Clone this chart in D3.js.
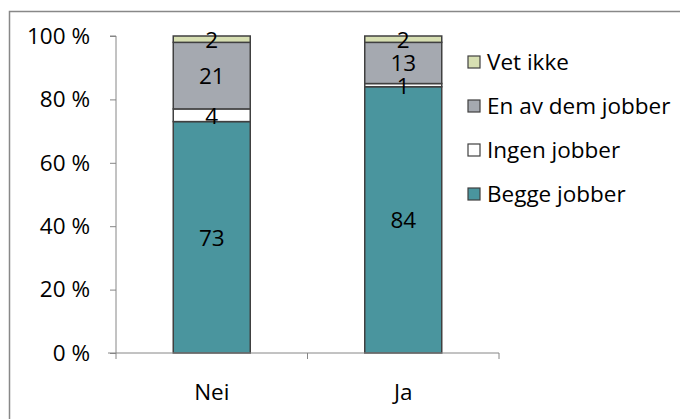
<!DOCTYPE html>
<html><head><meta charset="utf-8">
<script src="https://cdn.jsdelivr.net/npm/d3@7"></script>
<style>body{margin:0;background:#fff}svg{display:block;font-family:"Open Sans",sans-serif}</style>
</head><body><svg id="c" width="680" height="419"></svg>
<script>
const categories = ["Nei", "Ja"];
const seriesNames = ["Begge jobber", "Ingen jobber", "En av dem jobber", "Vet ikke"];
const begge = [73, 84];
const ingen = [4, 1];
const enAv = [21, 13];
const vetIkke = [2, 2];
const yTicks = [0, 20, 40, 60, 80, 100];
const colors = ["#4A959E", "#FFFFFF", "#A5A9B0", "#D7DFB2"];
const FONT = "'Open Sans',sans-serif";
const FS = 22.5;

const svg = d3.select("#c");
svg.append("rect").attr("x",9.5).attr("y",11.5).attr("width",700).attr("height",450)
  .attr("fill","none").attr("stroke","#888").attr("stroke-width",1.5);

const x0 = 116, x1 = 499, yTop = 36, yBot = 353;
const x = d3.scaleBand().domain(categories).range([x0, x1]).paddingInner(0).paddingOuter(0);
const y = d3.scaleLinear().domain([0,100]).range([yBot, yTop]);
const barW = 77;

const table = categories.map((c,i)=>({cat:c, "Begge jobber":begge[i], "Ingen jobber":ingen[i], "En av dem jobber":enAv[i], "Vet ikke":vetIkke[i]}));
const stack = d3.stack().keys(seriesNames)(table);

const g = svg.append("g");
stack.forEach((layer, li) => {
  layer.forEach(d => {
    const cx = x(d.data.cat) + x.bandwidth()/2;
    g.append("rect").attr("x", cx - barW/2).attr("y", y(d[1]))
      .attr("width", barW).attr("height", y(d[0]) - y(d[1]))
      .attr("fill", colors[li]).attr("stroke", "#404040").attr("stroke-width", 1.5);
  });
});
stack.forEach((layer, li) => {
  layer.forEach(d => {
    const cx = x(d.data.cat) + x.bandwidth()/2;
    g.append("text").attr("x", cx).attr("y", y((d[0]+d[1])/2)).attr("dy","0.38em")
      .attr("text-anchor","middle").attr("font-size",FS).attr("fill","#000")
      .text(d[1]-d[0]);
  });
});

// y axis
const yAxis = d3.axisLeft(y).tickValues(yTicks).tickSize(6).tickPadding(20).tickFormat(d => d + " %");
const ya = svg.append("g").attr("transform", `translate(${x0},0)`).call(yAxis);
ya.select(".domain").attr("stroke","#868686").attr("d", `M-6,${yTop}H0V${yBot}`);
ya.selectAll(".tick line").attr("stroke","#868686");
ya.selectAll(".tick text").attr("font-size",FS).attr("fill","#000").attr("font-family",FONT);

// x axis
const xAxis = d3.axisBottom(x).tickSize(0).tickPadding(31);
const xa = svg.append("g").attr("transform", `translate(0,${yBot})`).call(xAxis);
xa.select(".domain").attr("stroke","#868686").attr("d", `M${x0-8},0H${x1}`);
xa.selectAll(".tick text").attr("font-size",FS).attr("fill","#000").attr("font-family",FONT);
const bounds = [x0].concat(categories.map(c => x(c) + x.bandwidth()));
xa.selectAll(".bt").data(bounds).enter().append("line")
  .attr("x1",d=>d).attr("x2",d=>d).attr("y1",0).attr("y2",6).attr("stroke","#868686");

// legend
const legendOrder = ["Vet ikke", "En av dem jobber", "Ingen jobber", "Begge jobber"];
const lg = svg.append("g");
legendOrder.forEach((name, i) => {
  const ci = seriesNames.indexOf(name);
  const ly = 62 + i*44;
  lg.append("rect").attr("x",468).attr("y",ly-6).attr("width",12).attr("height",12)
    .attr("fill",colors[ci]).attr("stroke","#404040").attr("stroke-width",1.2);
  lg.append("text").attr("x",487).attr("y",ly).attr("dy","0.36em").attr("font-size",FS)
    .attr("fill","#000").text(name);
});
</script></body></html>
